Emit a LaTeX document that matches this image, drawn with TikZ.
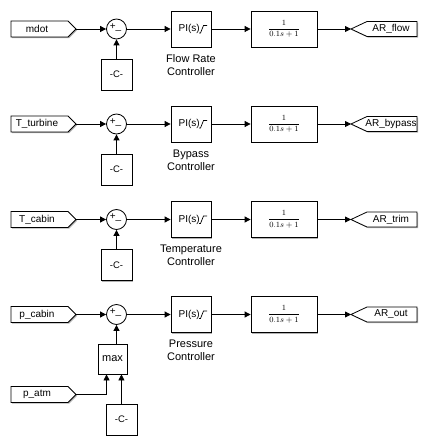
\documentclass[tikz,border=0pt]{standalone}
\usepackage{fontspec}
\setmainfont{Liberation Sans}
\usetikzlibrary{arrows.meta,shadows,calc}
\tikzset{
  blk/.style={draw, fill=white, line width=0.8pt, inner sep=0pt,
    drop shadow={shadow xshift=1.2pt,shadow yshift=-1.2pt,opacity=0.3,fill=black}},
  tagline/.style={draw, fill=white, line width=0.8pt,
    drop shadow={shadow xshift=1.2pt,shadow yshift=-1.2pt,opacity=0.3,fill=black}},
  tagtxt/.style={font=\fontsize{10}{12}\selectfont, inner sep=0pt},
  lbl/.style={font=\fontsize{11}{13}\selectfont, align=center, inner sep=0pt},
  sig/.style={line width=0.8pt, -{Triangle[length=6pt,width=6pt]}},
  sumblk/.style={circle, draw, fill=white, line width=0.8pt, minimum size=20pt, inner sep=0pt},
  satmark/.style={line width=0.7pt}
}
\newcommand{\intag}[3]{%
  \draw[tagline] (11,#2-8) -- (68,#2-8) -- (76,#2) -- (68,#2+8) -- (11,#2+8) -- cycle;
  \coordinate (#1) at (76,#2);
  \node[tagtxt] (#1t) at (37,#2) {#3};}
\newcommand{\outtag}[3]{%
  \draw[tagline] (351,#2) -- (367,#2-7.5) -- (417,#2-7.5) -- (417,#2+7.5) -- (367,#2+7.5) -- cycle;
  \coordinate (#1) at (351,#2);
  \node[tagtxt] (#1t) at (391,#2) {#3};}
\begin{document}
\begin{tikzpicture}[x=1pt,y=-1pt]
\useasboundingbox[fill=white] (0,0) rectangle (427,446);
\foreach \i/\r/\inp/\outp/\la/\lb in {1/29/mdot/AR\_flow/Flow Rate/Controller,
    2/124/T\_turbine/AR\_bypass/Bypass/Controller,
    3/219.5/T\_cabin/AR\_trim/Temperature/Controller,
    4/314.5/p\_cabin/AR\_out/Pressure/Controller}{
  \intag{in\i}{\r}{\inp}
  \outtag{out\i}{\r}{\outp}
  \node[sumblk] (sum\i) at (116.5,\r) {};
  \node[font=\fontsize{10}{11}\selectfont, inner sep=0pt] (sg\i) at (115.5,\r-1.5) {+\_};
  \node[blk, minimum width=40pt, minimum height=36pt] (pi\i) at (191,\r) {};
  \node[anchor=west, font=\fontsize{10}{12}\selectfont, inner sep=0pt] (pit\i) at (178.5,\r) {PI(s)};
  \draw[satmark] (199,\r+4) -- (200.5,\r+4) -- (203.5,\r-3.5) -- (207,\r-3.5);
  \node[lbl] (lb\i) at (191,\r+36) {\la\\\lb};
  \node[blk, minimum width=66pt, minimum height=36pt, font=\fontsize{8.5}{10}\selectfont] (tf\i) at (284,\r) {$\displaystyle\frac{1}{0.1s+1}$};
  \draw[sig] (in\i) -- (sum\i.west);
  \draw[sig] (sum\i.east) -- (pi\i.west);
  \draw[sig] (pi\i.east) -- (tf\i.west);
  \draw[sig] (tf\i.east) -- (out\i);
}
\foreach \i/\r in {1/29,2/124,3/219.5}{
  \node[blk, minimum size=31pt, font=\fontsize{9.5}{11}\selectfont] (c\i) at (116.5,\r+45.5) {-C-};
  \draw[sig] (c\i.north) -- (sum\i.south);
}
% row 4 extra
\node[blk, minimum width=29pt, minimum height=30pt, font=\fontsize{11}{13}\selectfont] (mx) at (112.5,359) {max};
\node[blk, minimum size=31pt, font=\fontsize{9.5}{11}\selectfont] (c5) at (121.5,419.5) {-C-};
\intag{pat}{394.5}{p\_atm}
\coordinate (mxin1) at ($(mx.south west)!0.3!(mx.south east)$);
\coordinate (mxin2) at ($(mx.south west)!0.8!(mx.south east)$);
\draw[sig] (sum4 |- mx.north) -- (sum4.south);
\draw[sig] (pat) -| (mxin1);
\draw[sig] (c5.north -| mxin2) -- (mxin2);
\end{tikzpicture}
\end{document}
